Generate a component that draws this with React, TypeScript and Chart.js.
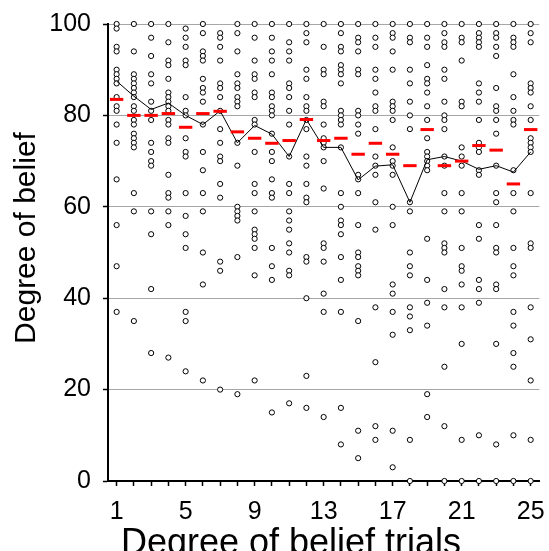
import React, { useEffect, useRef } from "react";
import { Chart, registerables } from "chart.js";

Chart.register(...registerables);

const trials = [1, 2, 3, 4, 5, 6, 7, 8, 9, 10, 11, 12, 13, 14, 15, 16, 17, 18, 19, 20, 21, 22, 23, 24, 25];
const xTickLabels = ["1", "5", "9", "13", "17", "21", "25"];
const yTickValues = [0, 20, 40, 60, 80, 100];
const xTitle = "Degree of belief trials";
const yTitle = "Degree of belief";

const trial01 = [100, 99, 95, 94, 90, 89, 88, 87, 84, 82, 81, 78, 74, 66, 56, 47, 37];
const trial02 = [100, 94, 89, 88, 87, 86, 85, 84, 82, 81, 79, 78, 76, 75, 74, 73, 63, 59, 35];
const trial03 = [100, 97, 93, 89, 87, 83, 81, 79, 74, 72, 70, 69, 59, 54, 42, 28];
const trial04 = [100, 96, 92, 91, 88, 85, 84, 83, 82, 81, 79, 78, 75, 74, 67, 63, 62, 59, 56, 27];
const trial05 = [99, 97, 95, 92, 91, 84, 81, 80, 75, 72, 71, 63, 58, 54, 51, 37, 35, 24];
const trial06 = [100, 98, 94, 93, 92, 88, 86, 85, 83, 78, 72, 68, 63, 59, 50, 43, 22];
const trial07 = [98, 97, 95, 92, 87, 86, 84, 81, 77, 74, 71, 70, 65, 62, 48, 46, 20];
const trial08 = [100, 98, 94, 89, 87, 86, 84, 83, 82, 74, 69, 60, 59, 58, 57, 49, 19];
const trial09 = [100, 97, 92, 89, 88, 85, 84, 79, 78, 72, 65, 63, 59, 55, 54, 53, 51, 45, 22];
const trial10 = [100, 97, 94, 92, 89, 85, 84, 82, 81, 80, 76, 72, 70, 66, 63, 62, 51, 47, 44, 15];
const trial11 = [100, 96, 94, 92, 87, 86, 84, 81, 78, 71, 65, 63, 59, 57, 55, 52, 50, 46, 45, 17];
const trial12 = [100, 98, 96, 90, 88, 84, 82, 81, 79, 77, 71, 69, 65, 62, 61, 49, 48, 40, 23, 16];
const trial13 = [100, 95, 90, 89, 83, 82, 78, 75, 74, 73, 70, 64, 52, 51, 48, 41, 37, 14];
const trial14 = [100, 98, 95, 94, 91, 90, 89, 87, 81, 80, 79, 78, 73, 63, 60, 57, 56, 54, 49, 44, 37, 16, 8];
const trial15 = [100, 97, 96, 94, 90, 89, 81, 80, 78, 76, 67, 66, 63, 56, 50, 49, 47, 46, 45, 35, 11, 5];
const trial16 = [100, 97, 95, 90, 88, 85, 82, 81, 77, 71, 69, 67, 61, 55, 38, 26, 12, 9];
const trial17 = [100, 98, 97, 94, 90, 83, 82, 81, 79, 73, 70, 69, 67, 60, 56, 43, 41, 37, 32, 11, 3];
const trial18 = [100, 97, 96, 90, 87, 83, 80, 77, 61, 59, 50, 47, 45, 38, 36, 33, 9, 0];
const trial19 = [100, 97, 95, 91, 88, 87, 85, 82, 79, 75, 72, 71, 70, 69, 68, 53, 44, 39, 34, 19, 14];
const trial20 = [100, 98, 96, 95, 90, 88, 83, 80, 79, 77, 71, 69, 63, 59, 52, 51, 50, 42, 38, 25, 12, 0];
const trial21 = [100, 97, 96, 92, 83, 82, 73, 71, 69, 63, 59, 51, 47, 46, 43, 38, 30, 9, 0];
const trial22 = [100, 98, 97, 96, 95, 87, 85, 83, 79, 74, 73, 72, 68, 67, 56, 53, 44, 42, 39, 10, 0];
const trial23 = [100, 98, 97, 95, 93, 86, 82, 81, 79, 76, 69, 63, 61, 56, 51, 50, 43, 42, 30, 8, 0];
const trial24 = [100, 97, 96, 95, 89, 84, 81, 79, 78, 68, 63, 59, 51, 47, 45, 37, 34, 28, 25, 10, 0];
const trial25 = [100, 98, 96, 87, 86, 85, 82, 79, 75, 74, 73, 72, 63, 52, 51, 38, 31, 22, 9, 0];

const responses = [
  trial01, trial02, trial03, trial04, trial05, trial06, trial07, trial08, trial09, trial10,
  trial11, trial12, trial13, trial14, trial15, trial16, trial17, trial18, trial19, trial20,
  trial21, trial22, trial23, trial24, trial25,
];

const meanBelief = [83.5, 80, 80, 80.4, 77.4, 80.4, 80.9, 76.4, 75, 73.9, 74.5, 79.1, 74.5, 75, 71.5, 73.9, 71.5, 69, 76.9, 69, 70, 73.4, 72.4, 65, 76.9];
const medianBelief = [87.5, 84.2, 81.3, 82.7, 80, 78, 81, 74, 77.8, 75.9, 71, 79.1, 73, 73, 65.9, 68.9, 69.2, 61, 70.3, 71, 70, 68.2, 69, 67.6, 72];

const FONT = 'Arial, "Liberation Sans", sans-serif';

// Draws the two axis titles as canvas text at positions matching the reference layout.
const axisTitlesPlugin = {
  id: "axisTitles",
  afterDraw(chart: any, _args: any, opts: any) {
    const ctx = chart.ctx as CanvasRenderingContext2D;
    ctx.save();
    ctx.fillStyle = "#000000";
    ctx.textAlign = "center";
    ctx.textBaseline = "middle";
    ctx.font = `${opts.ySize}px ${FONT}`;
    ctx.translate(opts.yCenterX, opts.yCenterY);
    ctx.rotate(-Math.PI / 2);
    ctx.fillText(opts.yText, 0, 0);
    ctx.restore();

    ctx.save();
    ctx.fillStyle = "#000000";
    ctx.textAlign = "center";
    ctx.textBaseline = "alphabetic";
    ctx.font = `${opts.xSize}px ${FONT}`;
    ctx.fillText(opts.xText, opts.xCenterX, opts.xBaseline);
    ctx.restore();
  },
};

export default function App() {
  const canvasRef = useRef<HTMLCanvasElement | null>(null);

  useEffect(() => {
    const canvas = canvasRef.current;
    if (!canvas) return;

    const points = responses.flatMap((vals, i) => vals.map((v) => ({ x: trials[i], y: v })));
    const means = meanBelief.map((v, i) => ({ x: trials[i], y: v }));
    const medians = medianBelief.map((v, i) => ({ x: trials[i], y: v }));

    const chart = new Chart(canvas, {
      type: "scatter",
      data: {
        datasets: [
          {
            label: "Mean",
            data: means,
            pointStyle: "line",
            pointRadius: 6.7,
            pointBorderWidth: 3,
            borderColor: "#ff0000",
            backgroundColor: "#ff0000",
            showLine: false,
            clip: false,
            order: 0,
          },
          {
            label: "Median",
            data: medians,
            showLine: true,
            borderColor: "#000000",
            borderWidth: 1,
            pointRadius: 0,
            clip: false,
            order: 1,
          },
          {
            label: "Responses",
            data: points,
            pointStyle: "circle",
            pointRadius: 2.6,
            pointBorderWidth: 1,
            borderColor: "#000000",
            backgroundColor: "#ffffff",
            showLine: false,
            clip: false,
            order: 2,
          },
        ],
      },
      plugins: [axisTitlesPlugin],
      options: {
        animation: false,
        responsive: false,
        maintainAspectRatio: false,
        devicePixelRatio: 1,
        layout: { padding: { top: 24, right: 4, left: 0, bottom: 0 } },
        plugins: {
          legend: { display: false },
          tooltip: { enabled: false },
          axisTitles: {
            yText: yTitle,
            ySize: 30,
            yCenterX: 27,
            yCenterY: 238,
            xText: xTitle,
            xSize: 36,
            xCenterX: 291,
            xBaseline: 554,
          },
        } as any,
        scales: {
          x: {
            type: "linear",
            min: 0.5,
            max: 25.5,
            afterBuildTicks: (s: any) => {
              s.ticks = trials.map((v) => ({ value: v }));
            },
            afterFit: (s: any) => {
              s.height = 70;
              s.paddingLeft = 0;
              s.paddingRight = 0;
            },
            grid: {
              drawOnChartArea: false,
              drawTicks: true,
              tickLength: 5,
              tickColor: "#000000",
              tickWidth: 1.5,
            },
            border: { color: "#000000", width: 2 },
            ticks: {
              autoSkip: false,
              maxRotation: 0,
              color: "#000000",
              padding: 11,
              font: { size: 25, family: FONT },
              callback: (v: any) => (xTickLabels.includes(String(v)) ? String(v) : ""),
            },
            title: { display: false, text: xTitle },
          },
          y: {
            min: 0,
            max: 100,
            afterBuildTicks: (s: any) => {
              s.ticks = yTickValues.map((v) => ({ value: v }));
            },
            afterFit: (s: any) => {
              s.width = 108;
              s.paddingTop = 0;
              s.paddingBottom = 0;
            },
            grid: {
              color: "#a6a6a6",
              lineWidth: 1,
              drawTicks: true,
              tickLength: 5,
              tickColor: "#000000",
              tickWidth: 1.5,
            },
            border: { color: "#000000", width: 2 },
            ticks: {
              color: "#000000",
              padding: 12,
              font: { size: 25, family: FONT },
            },
            title: { display: false, text: yTitle },
          },
        },
      },
    });

    return () => {
      chart.destroy();
    };
  }, []);

  return (
    <div style={{ position: "fixed", left: 0, top: 0, width: 549, height: 551, background: "#ffffff" }}>
      <canvas ref={canvasRef} width={549} height={551} style={{ display: "block", width: 549, height: 551 }} />
    </div>
  );
}
